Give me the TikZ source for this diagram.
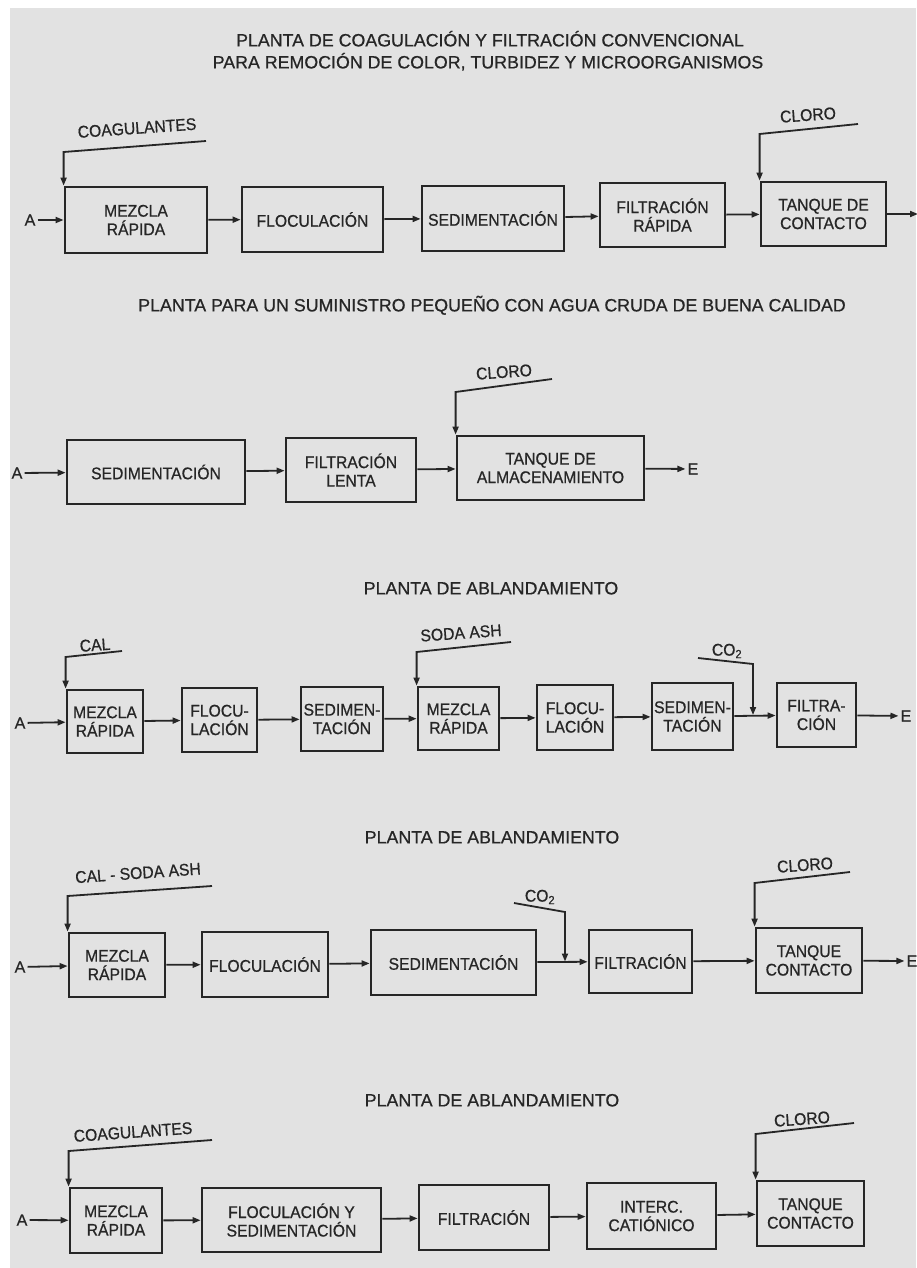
\documentclass[tikz,border=0pt]{standalone}
\usepackage{fontspec}
\setmainfont{Liberation Sans}[FakeBold=0.7]
\newfontfamily\etiqueta{Liberation Sans}[FakeBold=0.7, FakeStretch=0.93]
\usetikzlibrary{arrows.meta}
\definecolor{tinta}{HTML}{262626}
\definecolor{papel}{HTML}{E2E2E2}
\tikzset{
  caja/.style={draw=tinta, line width=2.8pt, inner sep=0pt, align=center, text=tinta,
    font=\etiqueta\fontsize{16.9}{18.5}\selectfont},
  flecha/.style={draw=tinta, line width=1.8pt, -{Triangle[length=8pt,width=6pt]}},
  titulo/.style={text=tinta, font=\fontsize{17.8}{20}\selectfont, inner sep=0pt, anchor=base},
  gas/.style={text=tinta, font=\etiqueta\fontsize{16.9}{18}\selectfont, inner sep=0pt},
  quimico/.style={gas, rotate=4},
  extremo/.style={text=tinta, font=\fontsize{16}{18}\selectfont, inner sep=2pt}
}
\begin{document}
\begin{tikzpicture}[x=1pt,y=-1pt]
  \useasboundingbox (0,0) rectangle (916,1268);
  \fill[white] (0,0) rectangle (916,1268);
  \fill[papel] (10,8) rectangle (916,1268);

  % planta convencional
  \node[titulo] (t1a) at (490,46.4) {PLANTA DE COAGULACIÓN Y FILTRACIÓN CONVENCIONAL};
  \node[titulo] (t1b) at (488,68.4) {PARA REMOCIÓN DE COLOR, TURBIDEZ Y MICROORGANISMOS};
  \node[extremo] (r1a) at (30,220) {A};
  \node[caja, minimum width=142pt, minimum height=66pt] (r1b1) at (136,220) {MEZCLA\\RÁPIDA};
  \node[caja, minimum width=141pt, minimum height=65pt] (r1b2) at (312.5,219.5) {FLOCULACIÓN};
  \node[caja, minimum width=142pt, minimum height=65pt] (r1b3) at (493,218.5) {SEDIMENTACIÓN};
  \node[caja, minimum width=125pt, minimum height=64pt] (r1b4) at (662.5,215) {FILTRACIÓN\\RÁPIDA};
  \node[caja, minimum width=125pt, minimum height=64pt] (r1b5) at (823.5,214) {TANQUE DE\\CONTACTO};
  \coordinate (r1e) at (918,214);
  \draw[flecha] (r1a) -- (r1b1);
  \draw[flecha] (r1b1) -- (r1b2);
  \draw[flecha] (r1b2) -- (r1b3);
  \draw[flecha] (r1b3) -- (r1b4);
  \draw[flecha] (r1b4) -- (r1b5);
  \draw[flecha] (r1b5) -- (r1e);
  \node[quimico] (r1coag) at (137,128) {COAGULANTES};
  \coordinate (r1qa) at (206,141);
  \coordinate (r1qb) at (65,152);
  \draw[flecha] (r1qa) -- (r1b1.north west |- r1qb) -- (r1b1.north west);
  \node[quimico] (r1cl) at (808,115) {CLORO};
  \coordinate (r1ca) at (858,124);
  \coordinate (r1cb) at (761,134);
  \draw[flecha] (r1ca) -- (r1b5.north west |- r1cb) -- (r1b5.north west);

  % suministro pequeno
  \node[titulo] (t2) at (492,311.4) {PLANTA PARA UN SUMINISTRO PEQUEÑO CON AGUA CRUDA DE BUENA CALIDAD};
  \node[extremo] (r2a) at (17,473) {A};
  \node[caja, minimum width=178pt, minimum height=64pt] (r2b1) at (156,472) {SEDIMENTACIÓN};
  \node[caja, minimum width=130pt, minimum height=64pt] (r2b2) at (351,470) {FILTRACIÓN\\LENTA};
  \node[caja, minimum width=187pt, minimum height=64pt] (r2b3) at (550.5,468) {TANQUE DE\\ALMACENAMIENTO};
  \node[extremo] (r2e) at (693,469) {E};
  \draw[flecha] (r2a) -- (r2b1);
  \draw[flecha] (r2b1) -- (r2b2);
  \draw[flecha] (r2b2) -- (r2b3);
  \draw[flecha] (r2b3) -- (r2e);
  \node[quimico] (r2cl) at (504,372) {CLORO};
  \coordinate (r2ca) at (552,379);
  \coordinate (r2cb) at (458,392);
  \draw[flecha] (r2ca) -- (r2b3.north west |- r2cb) -- (r2b3.north west);

  % ablandamiento 1
  \node[titulo] (t3) at (491,594.4) {PLANTA DE ABLANDAMIENTO};
  \node[extremo] (r3a) at (20,723) {A};
  \node[caja, minimum width=76pt, minimum height=63pt] (r3b1) at (105,721.5) {MEZCLA\\RÁPIDA};
  \node[caja, minimum width=75pt, minimum height=64pt] (r3b2) at (219.5,720) {FLOCU-\\LACIÓN};
  \node[caja, minimum width=82pt, minimum height=64pt] (r3b3) at (342,719) {SEDIMEN-\\TACIÓN};
  \node[caja, minimum width=81pt, minimum height=63pt] (r3b4) at (458.5,718.5) {MEZCLA\\RÁPIDA};
  \node[caja, minimum width=76pt, minimum height=65pt] (r3b5) at (575,717.5) {FLOCU-\\LACIÓN};
  \node[caja, minimum width=81pt, minimum height=67pt] (r3b6) at (692.5,716.5) {SEDIMEN-\\TACIÓN};
  \node[caja, minimum width=79pt, minimum height=64pt] (r3b7) at (816.5,715) {FILTRA-\\CIÓN};
  \node[extremo] (r3e) at (906,716) {E};
  \draw[flecha] (r3a) -- (r3b1);
  \draw[flecha] (r3b1) -- (r3b2);
  \draw[flecha] (r3b2) -- (r3b3);
  \draw[flecha] (r3b3) -- (r3b4);
  \draw[flecha] (r3b4) -- (r3b5);
  \draw[flecha] (r3b5) -- (r3b6);
  \draw[flecha] (r3b6) -- (r3b7);
  \draw[flecha] (r3b7) -- (r3e);
  \node[quimico] (r3cal) at (95,645) {CAL};
  \coordinate (r3ka) at (122,651);
  \coordinate (r3kb) at (67,657);
  \draw[flecha] (r3ka) -- (r3b1.north west |- r3kb) -- (r3b1.north west);
  \node[quimico] (r3soda) at (461,633) {SODA ASH};
  \coordinate (r3sa) at (511,642);
  \coordinate (r3sb) at (418,652);
  \draw[flecha] (r3sa) -- (r3b4.north west |- r3sb) -- (r3b4.north west);
  \node[gas] (r3co) at (727,651) {CO\textsubscript{2}};
  \coordinate (r3ga) at (698,658);
  \coordinate (r3gb) at (753,664);
  \draw[flecha] (r3ga) -- (r3gb) -- (r3gb |- r3b7.west);

  % ablandamiento 2
  \node[titulo] (t4) at (492,843.4) {PLANTA DE ABLANDAMIENTO};
  \node[extremo] (r4a) at (20,967) {A};
  \node[caja, minimum width=96pt, minimum height=64pt] (r4b1) at (117,965) {MEZCLA\\RÁPIDA};
  \node[caja, minimum width=126pt, minimum height=65pt] (r4b2) at (265,964.5) {FLOCULACIÓN};
  \node[caja, minimum width=165pt, minimum height=65pt] (r4b3) at (453.5,962.5) {SEDIMENTACIÓN};
  \node[caja, minimum width=103pt, minimum height=63pt] (r4b4) at (640.5,961.5) {FILTRACIÓN};
  \node[caja, minimum width=106pt, minimum height=65pt] (r4b5) at (809,960.5) {TANQUE\\CONTACTO};
  \node[extremo] (r4e) at (912,961) {E};
  \draw[flecha] (r4a) -- (r4b1);
  \draw[flecha] (r4b1) -- (r4b2);
  \draw[flecha] (r4b2) -- (r4b3);
  \draw[flecha] (r4b3) -- (r4b4);
  \draw[flecha] (r4b4) -- (r4b5);
  \draw[flecha] (r4b5) -- (r4e);
  \node[quimico] (r4cs) at (138,873) {CAL - SODA ASH};
  \coordinate (r4ka) at (212,886);
  \coordinate (r4kb) at (69,896);
  \draw[flecha] (r4ka) -- (r4b1.north west |- r4kb) -- (r4b1.north west);
  \node[gas] (r4co) at (540,897) {CO\textsubscript{2}};
  \coordinate (r4ga) at (514,903);
  \coordinate (r4gb) at (565,912);
  \draw[flecha] (r4ga) -- (r4gb) -- (r4gb |- r4b4.west);
  \node[quimico] (r4cl) at (805,865) {CLORO};
  \coordinate (r4ca) at (850,872);
  \coordinate (r4cb) at (756,883);
  \draw[flecha] (r4ca) -- (r4b5.north west |- r4cb) -- (r4b5.north west);

  % ablandamiento 3
  \node[titulo] (t5) at (492,1106.4) {PLANTA DE ABLANDAMIENTO};
  \node[extremo] (r5a) at (22,1220) {A};
  \node[caja, minimum width=92pt, minimum height=65pt] (r5b1) at (116,1220.5) {MEZCLA\\RÁPIDA};
  \node[caja, minimum width=179pt, minimum height=64pt] (r5b2) at (291.5,1220) {FLOCULACIÓN Y\\SEDIMENTACIÓN};
  \node[caja, minimum width=130pt, minimum height=65pt] (r5b3) at (484,1217.5) {FILTRACIÓN};
  \node[caja, minimum width=129pt, minimum height=66pt] (r5b4) at (651.5,1216) {INTERC.\\CATIÓNICO};
  \node[caja, minimum width=107pt, minimum height=65pt] (r5b5) at (810.5,1213.5) {TANQUE\\CONTACTO};
  \draw[flecha] (r5a) -- (r5b1);
  \draw[flecha] (r5b1) -- (r5b2);
  \draw[flecha] (r5b2) -- (r5b3);
  \draw[flecha] (r5b3) -- (r5b4);
  \draw[flecha] (r5b4) -- (r5b5);
  \node[quimico] (r5coag) at (133,1132) {COAGULANTES};
  \coordinate (r5qa) at (212,1140);
  \coordinate (r5qb) at (70,1151);
  \draw[flecha] (r5qa) -- (r5b1.north west |- r5qb) -- (r5b1.north west);
  \node[quimico] (r5cl) at (802,1119) {CLORO};
  \coordinate (r5ca) at (854,1123);
  \coordinate (r5cb) at (757,1134);
  \draw[flecha] (r5ca) -- (r5b5.north west |- r5cb) -- (r5b5.north west);
\end{tikzpicture}
\end{document}
